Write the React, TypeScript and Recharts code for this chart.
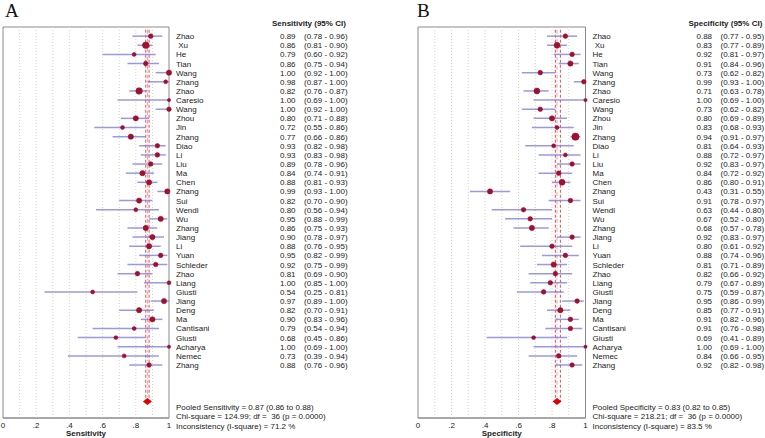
import React from "react";
import { ScatterChart, Scatter, XAxis, YAxis, ReferenceLine, ReferenceArea, Label } from "recharts";

const studies = ["Zhao", " Xu", "He", "Tian", "Wang", "Zhang", "Zhao", "Caresio", "Wang", "Zhou", "Jin", "Zhang", "Diao", "Li", "Liu", "Ma", "Chen", "Zhang", "Sui", "Wendl", "Wu", "Zhang", "Jiang", "Li", "Yuan", "Schleder", "Zhao", "Liang", "Giusti", "Jiang", "Deng", "Ma", "Cantisani", "Giusti", "Acharya", "Nemec", "Zhang"];

const sensEst = [0.89, 0.86, 0.79, 0.86, 1.0, 0.98, 0.82, 1.0, 1.0, 0.8, 0.72, 0.77, 0.93, 0.93, 0.89, 0.84, 0.88, 0.99, 0.82, 0.8, 0.95, 0.86, 0.9, 0.88, 0.95, 0.92, 0.81, 1.0, 0.54, 0.97, 0.82, 0.9, 0.79, 0.68, 1.0, 0.73, 0.88];
const sensLo = [0.78, 0.81, 0.6, 0.75, 0.92, 0.87, 0.76, 0.69, 0.92, 0.71, 0.55, 0.66, 0.82, 0.83, 0.78, 0.74, 0.81, 0.93, 0.7, 0.56, 0.88, 0.75, 0.78, 0.76, 0.82, 0.75, 0.69, 0.85, 0.25, 0.89, 0.7, 0.83, 0.54, 0.45, 0.69, 0.39, 0.76];
const sensHi = [0.96, 0.9, 0.92, 0.94, 1.0, 1.0, 0.87, 1.0, 1.0, 0.88, 0.86, 0.86, 0.98, 0.98, 0.96, 0.91, 0.93, 1.0, 0.9, 0.94, 0.99, 0.93, 0.97, 0.95, 0.99, 0.99, 0.9, 1.0, 0.81, 1.0, 0.91, 0.96, 0.94, 0.86, 1.0, 0.94, 0.96];
const sensWeight = [3.5, 5, 3, 3.5, 4, 3, 5, 2.5, 3.5, 4, 3, 4, 3.5, 3.5, 3.5, 4, 4, 4, 4, 3, 4, 4, 4, 4, 3.5, 3.5, 3.5, 3, 3, 4, 4, 4, 3, 3, 2.5, 3, 3.5];

const specEst = [0.88, 0.83, 0.92, 0.91, 0.73, 0.99, 0.71, 1.0, 0.73, 0.8, 0.83, 0.94, 0.81, 0.88, 0.92, 0.84, 0.86, 0.43, 0.91, 0.63, 0.67, 0.68, 0.92, 0.8, 0.88, 0.81, 0.82, 0.79, 0.75, 0.95, 0.85, 0.91, 0.91, 0.69, 1.0, 0.84, 0.92];
const specLo = [0.77, 0.77, 0.81, 0.84, 0.62, 0.93, 0.63, 0.69, 0.62, 0.69, 0.68, 0.91, 0.64, 0.72, 0.83, 0.72, 0.8, 0.31, 0.78, 0.44, 0.52, 0.57, 0.83, 0.61, 0.74, 0.71, 0.66, 0.67, 0.59, 0.86, 0.77, 0.82, 0.76, 0.41, 0.69, 0.66, 0.82];
const specHi = [0.95, 0.89, 0.97, 0.96, 0.82, 1.0, 0.78, 1.0, 0.82, 0.89, 0.93, 0.97, 0.93, 0.97, 0.97, 0.92, 0.91, 0.55, 0.97, 0.8, 0.8, 0.78, 0.97, 0.92, 0.96, 0.89, 0.92, 0.89, 0.87, 0.99, 0.91, 0.96, 0.98, 0.89, 1.0, 0.95, 0.98];
const specWeight = [3.5, 4.5, 3.5, 4, 3.5, 3.5, 4.5, 2.5, 3.5, 4, 3, 5.5, 3, 3, 3.5, 3.5, 4.5, 4, 3.5, 3.5, 3.5, 4, 3.5, 3.5, 3.5, 4, 3.5, 3.5, 3.5, 3.5, 4, 3.5, 3.5, 3, 2.5, 3.5, 3.5];

const xTicks = [0, 0.2, 0.4, 0.6, 0.8, 1];
const gridTicks = [0.1, 0.2, 0.3, 0.4, 0.5, 0.6, 0.7, 0.8, 0.9];

const sensPooled = { est: 0.87, lo: 0.86, hi: 0.88, chi: "124.99", df: "36", p: "0.0000", i2: "71.2" };
const specPooled = { est: 0.83, lo: 0.82, hi: 0.85, chi: "218.21", df: "36", p: "0.0000", i2: "83.5" };

const FONT = "'Liberation Sans', Arial, Helvetica, sans-serif";
const POOLED_ROW = 41;
const Y_MAX = 42.8;
const R_SCALE = 0.66;

type PanelCfg = {
  title: string;
  est: number[];
  lo: number[];
  hi: number[];
  weight: number[];
  pooled: typeof sensPooled;
};

const fmtX = (v: number) => (v === 0 ? "0" : v === 1 ? "1" : "." + Math.round(v * 10));

function renderTick(props: any, cfg: PanelCfg) {
  const { x, y, payload } = props;
  const v = payload.value;
  const base = { fontFamily: FONT, fontSize: 8, fill: "#222" } as any;
  if (v === 0) {
    return (
      <text x={x + 103} y={y - 1} {...base} fontWeight="bold">
        {cfg.title} (95% CI)
      </text>
    );
  }
  if (v === POOLED_ROW) {
    const p = cfg.pooled;
    return (
      <g>
        <text x={x + 7} y={y + 8} {...base}>
          Pooled {cfg.title} = {p.est.toFixed(2)} ({p.lo.toFixed(2)} to {p.hi.toFixed(2)})
        </text>
        <text x={x + 7} y={y + 17} {...base} style={{ whiteSpace: "pre" }}>
          {`Chi-square = ${p.chi}; df =  ${p.df} (p = ${p.p})`}
        </text>
        <text x={x + 7} y={y + 27} {...base}>
          Inconsistency (I-square) = {p.i2} %
        </text>
      </g>
    );
  }
  const i = v - 1;
  if (i < 0 || i >= studies.length) return <g />;
  return (
    <g>
      <text x={x + 7} y={y + 3} {...base} style={{ whiteSpace: "pre" }}>
        {studies[i]}
      </text>
      <text x={x + 111} y={y + 3} {...base}>
        {cfg.est[i].toFixed(2)}
      </text>
      <text x={x + 135} y={y + 3} {...base}>
        ({cfg.lo[i].toFixed(2)} - {cfg.hi[i].toFixed(2)})
      </text>
    </g>
  );
}

function Panel({ cfg, width, axisWidth }: { cfg: PanelCfg; width: number; axisWidth: number }) {
  const points = studies.map((_, i) => ({ x: cfg.est[i], y: i + 1, r: cfg.weight[i] }));
  const pooledPt = [{ x: cfg.pooled.est, y: POOLED_ROW }];
  const yTicks = [0, ...studies.map((_, i) => i + 1), POOLED_ROW];
  return (
    <ScatterChart width={width} height={438} margin={{ top: 27, left: 3, right: 0, bottom: 0 }}>
      <XAxis
        type="number"
        dataKey="x"
        domain={[0, 1]}
        ticks={xTicks}
        tickFormatter={fmtX}
        axisLine={{ stroke: "#8a8a8a" }}
        tickLine={false}
        tickSize={0}
        tickMargin={4}
        height={20}
        tick={{ fontFamily: FONT, fontSize: 8, fill: "#222" }}
        interval={0}
      >
        <Label
          content={(lp: any) => {
            const vb = lp.viewBox || { x: 3, y: 418, width: 166 };
            return (
              <text x={vb.x + vb.width / 2} y={vb.y + 18} textAnchor="middle" fontFamily={FONT} fontSize={8} fontWeight="bold" fill="#222">
                {cfg.title}
              </text>
            );
          }}
        />
      </XAxis>
      <YAxis
        type="number"
        dataKey="y"
        orientation="right"
        reversed
        domain={[0, Y_MAX]}
        ticks={yTicks}
        interval={0}
        width={axisWidth}
        axisLine={false}
        tickLine={false}
        tickSize={0}
        tickMargin={0}
        tick={(p: any) => renderTick(p, cfg)}
      />
      {gridTicks.map((g) => (
        <ReferenceLine key={"g" + g} x={g} stroke="#d4d4d4" strokeDasharray="1 2" />
      ))}
      <ReferenceArea x1={0} x2={1} y1={0} y2={Y_MAX} fill="none" stroke="#8a8a8a" strokeWidth={1} />
      <ReferenceLine segment={[{ x: cfg.pooled.lo, y: 0.3 }, { x: cfg.pooled.lo, y: POOLED_ROW }]} stroke="#e05050" strokeDasharray="3 2" />
      <ReferenceLine segment={[{ x: cfg.pooled.est, y: 0.3 }, { x: cfg.pooled.est, y: POOLED_ROW }]} stroke="#f0a0a0" strokeDasharray="4 2 1 2" />
      <ReferenceLine segment={[{ x: cfg.pooled.hi, y: 0.3 }, { x: cfg.pooled.hi, y: POOLED_ROW }]} stroke="#e05050" strokeDasharray="3 2" />
      {studies.map((_, i) => (
        <ReferenceLine
          key={"ci" + i}
          segment={[{ x: cfg.lo[i], y: i + 1 }, { x: cfg.hi[i], y: i + 1 }]}
          stroke="#7f7fe0"
          strokeOpacity={0.8}
          strokeWidth={1.5}
        />
      ))}
      <Scatter
        data={points}
        isAnimationActive={false}
        shape={(p: any) => <circle cx={p.cx} cy={p.cy} r={p.payload.r * R_SCALE} fill="#a3102f" stroke="#8a0a25" strokeWidth={0.5} />}
      />
      <Scatter
        data={pooledPt}
        isAnimationActive={false}
        shape={(p: any) => (
          <polygon
            points={`${p.cx - 4.5},${p.cy} ${p.cx},${p.cy - 3.5} ${p.cx + 4.5},${p.cy} ${p.cx},${p.cy + 3.5}`}
            fill="#e00000"
          />
        )}
      />
    </ScatterChart>
  );
}

const sensCfg: PanelCfg = { title: "Sensitivity", est: sensEst, lo: sensLo, hi: sensHi, weight: sensWeight, pooled: sensPooled };
const specCfg: PanelCfg = { title: "Specificity", est: specEst, lo: specLo, hi: specHi, weight: specWeight, pooled: specPooled };

export default function App() {
  return (
    <div style={{ position: "absolute", left: 0, top: 0, width: 765, height: 438, background: "#fff", overflow: "hidden" }}>
      <div style={{ position: "absolute", left: 5, top: 0, fontFamily: "'Liberation Serif', 'DejaVu Serif', serif", fontSize: 19, color: "#111" }}>A</div>
      <div style={{ position: "absolute", left: 417, top: 0, fontFamily: "'Liberation Serif', 'DejaVu Serif', serif", fontSize: 19, color: "#111" }}>B</div>
      <div style={{ position: "absolute", left: 0, top: 0 }}>
        <Panel cfg={sensCfg} width={380} axisWidth={211} />
      </div>
      <div style={{ position: "absolute", left: 415, top: 0 }}>
        <Panel cfg={specCfg} width={350} axisWidth={179.5} />
      </div>
    </div>
  );
}
